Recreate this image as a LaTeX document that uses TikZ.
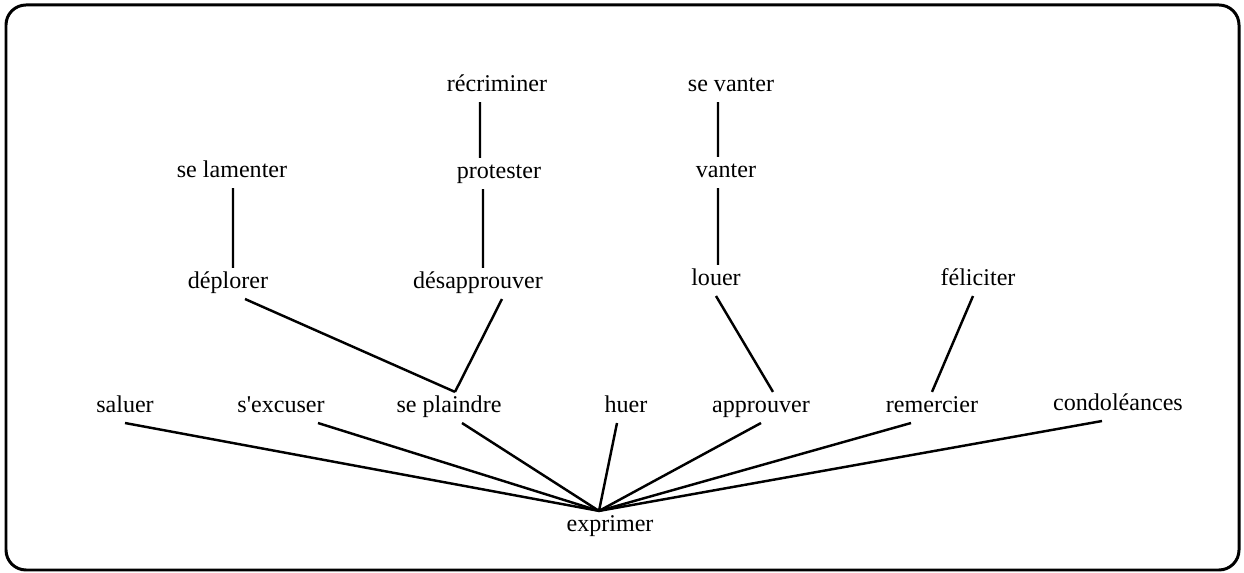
\documentclass[tikz,border=0pt]{standalone}
\usepackage{fontspec}
\setmainfont{Liberation Serif}

\begin{document}
\begin{tikzpicture}[x=0.02cm,y=-0.02cm,
    mot/.style={anchor=base,inner sep=0pt,outer sep=0pt,text height=12pt,text depth=5.7pt,
      font=\fontsize{13.7}{16}\selectfont},
    lien/.style={line width=1.4pt}]

        % Frame round the whole tree
        \useasboundingbox (0,0) rectangle (1244,573);
        \draw[line width=1.7pt,rounded corners=0.4cm] (6,5) rectangle (1239,570);

        % Top row
        \node[mot] (recriminer) at (497,92) {récriminer};
        \node[mot] (sevanter) at (731,92) {se vanter};

        % Second row
        \node[mot] (selamenter) at (232,178) {se lamenter};
        \node[mot] (protester) at (499,179) {protester};
        \node[mot] (vanter) at (726,178) {vanter};

        % Third row
        \node[mot] (deplorer) at (228,289) {déplorer};
        \node[mot] (desapprouver) at (478,289) {désapprouver};
        \node[mot] (louer) at (716,286) {louer};
        \node[mot] (feliciter) at (978,286) {féliciter};

        % Fourth row
        \node[mot] (saluer) at (125,413) {saluer};
        \node[mot] (sexcuser) at (281,413) {s\textquotesingle excuser};
        \node[mot] (seplaindre) at (449,413) {se plaindre};
        \node[mot] (huer) at (626,413) {huer};
        \node[mot] (approuver) at (761,413) {approuver};
        \node[mot] (remercier) at (932,413) {remercier};
        \node[mot] (condoleances) at (1118,411) {condoléances};

        % Root
        \node[mot] (exprimer) at (610,532) {exprimer};

        % Vertical chains
        \draw[lien] ([xshift=-0.34cm]recriminer.south) -- ([xshift=-0.38cm]protester.north);
        \draw[lien] ([xshift=-0.32cm]protester.south) -- ([xshift=0.1cm]desapprouver.north);
        \draw[lien] ([xshift=0.02cm]selamenter.south) -- ([xshift=0.02cm+0.08cm]deplorer.north);
        \draw[lien] ([xshift=-0.26cm]sevanter.south) -- ([xshift=-0.16cm]vanter.north);
        \draw[lien] ([xshift=-0.16cm]vanter.south) -- ([xshift=0.04cm]louer.north);

        % Third row down to fourth row
        \draw[lien] ([xshift=0.34cm]deplorer.south) -- ([xshift=0.12cm]seplaindre.north);
        \draw[lien] ([xshift=0.48cm]desapprouver.south) -- ([xshift=0.12cm]seplaindre.north);
        \draw[lien] (louer.south) -- ([xshift=0.24cm]approuver.north);
        \draw[lien] ([xshift=-0.1cm]feliciter.south) -- (remercier.north);

        % Fan into the root
        \draw[lien] (saluer.south) -- ([xshift=-0.22cm]exprimer.north);
        \draw[lien] ([xshift=0.74cm]sexcuser.south) -- ([xshift=-0.22cm]exprimer.north);
        \draw[lien] ([xshift=0.26cm]seplaindre.south) -- ([xshift=-0.22cm]exprimer.north);
        \draw[lien] ([xshift=-0.18cm]huer.south) -- ([xshift=-0.22cm]exprimer.north);
        \draw[lien] (approuver.south) -- ([xshift=-0.22cm]exprimer.north);
        \draw[lien] ([xshift=-0.42cm]remercier.south) -- ([xshift=-0.22cm]exprimer.north);
        \draw[lien] ([xshift=-0.32cm]condoleances.south) -- ([xshift=-0.22cm]exprimer.north);
    \end{tikzpicture}
\end{document}
